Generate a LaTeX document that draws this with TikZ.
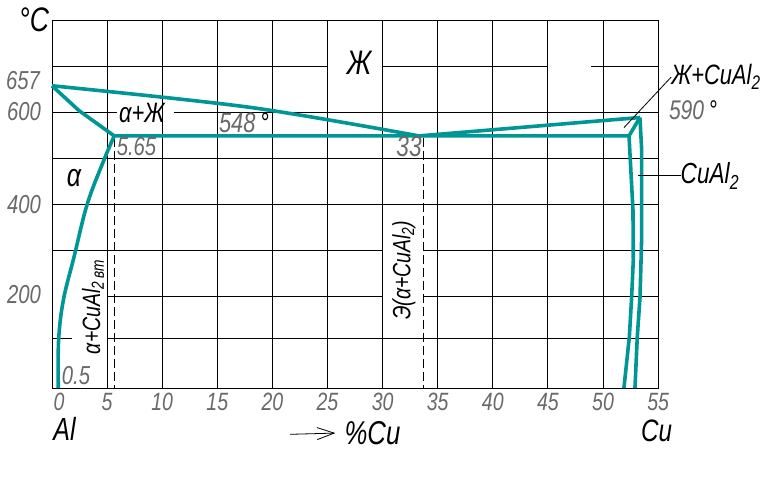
\documentclass[tikz,border=0pt]{standalone}
\usepackage{fontspec}
\setmainfont{Liberation Sans}[FakeStretch=0.78]
\usepackage{tikz}
\usetikzlibrary{arrows.meta}

\definecolor{fazacol}{RGB}{0,150,150}
\definecolor{numcol}{RGB}{105,105,105}

\tikzset{
  setka/.style={line width=0.9pt},
  faza/.style={line width=3.6pt, fazacol},
  shtrih/.style={line width=0.8pt, dash pattern=on 9pt off 4pt},
  vynoska/.style={line width=0.8pt},
  lbl/.style={font=\fontsize{#1}{#1}\selectfont\itshape, inner sep=0pt},
  lbl/.default=28,
  num/.style={text=numcol, font=\fontsize{#1}{#1}\selectfont\itshape, inner sep=0pt},
  num/.default=26
}

\begin{document}
\begin{tikzpicture}[x=11.02pt, y=0.46pt]
    % Параметры
    \def\Te{548}    % температура эвтектики
    \def\Ce{33.3}   % состав эвтектики
    \def\Ca{5.65}   % предельная растворимость в alpha
    \def\Tm{588}    % плавление CuAl2

    \useasboundingbox (-52pt,-92pt) rectangle (717pt,388pt);

    % Сетка
    \draw[setka] (0,0) rectangle (55,800);
    \foreach \c in {5,10,...,50}
        \draw[setka] (\c,0) -- (\c,800);
    \draw[setka] (0,700) -- (25,700) (30,700) -- (45,700) (48.9,700) -- (55,700);
    \draw[setka] (0,600) -- (5.87,600) (11.07,600) -- (55,600);
    \draw[setka] (0,500) -- (55,500);
    \draw[setka] (0,400) -- (55,400);
    \draw[setka] (0,300) -- (30,300) (33.67,300) -- (55,300);
    \draw[setka] (5,198) -- (30,198) (33.67,198) -- (55,198);
    \draw[setka] (0,107) -- (1.84,107) (5,107) -- (55,107);

    % Штриховые линии
    \draw[shtrih] (\Ca,544) -- (\Ca,0);
    \draw[shtrih] (33.67,544) -- (33.67,0);

    % Ликвидус
    \draw[faza] plot[smooth, tension=0.5] coordinates {(0,657) (18,610) (\Ce,\Te)};
    \draw[faza] (\Ce,\Te) -- (53.35,\Tm);

    % Солидус и эвтектическая горизонталь
    \draw[faza] (0,657) -- (2.45,603) -- (\Ca,\Te) -- (52.36,\Te) -- (53.35,\Tm);

    % Сольвус alpha
    \draw[faza] plot[smooth, tension=0.6] coordinates
        {(\Ca,\Te) (4.72,496) (3.2,400) (2.0,285) (1.03,191) (0.6,104) (0.57,0)};

    % Область CuAl2
    \draw[faza] (52.36,\Te) -- (52.72,387) -- (52.75,278) -- (52.6,198) -- (52.39,111) -- (51.9,0);
    \draw[faza] (53.35,\Tm) -- (53.51,517) -- (53.51,328) -- (53.36,198) -- (53.11,111) -- (52.9,0);

    % Подписи оси температур
    \node[lbl=34] (degC) at (-1.63,801) {°C};
    \node[num] (t657) at (-2.63,669) {657};
    \node[num] (t600) at (-2.54,602) {600};
    \node[num] (t400) at (-2.54,399) {400};
    \node[num] (t200) at (-2.54,204) {200};

    % Подписи оси составов
    \node[num=25] (c0) at (0.65,-31) {0};
    \foreach \c in {5,10,...,55}
        \node[num=25] (c\c) at (\c,-31) {\c};
    \node[lbl=32] (al) at (1.13,-89) {Al};
    \node[lbl=33] (pctcu) at (29.08,-98) {\%Cu};
    \node[lbl=31] (cu) at (54.87,-93) {Cu};
    \coordinate (strelka) at (21.6,-100.7);
    \draw[vynoska, -{Straight Barb[length=17pt, width=12pt]}] (strelka) -- ([xshift=-9pt]pctcu.west);

    % Точки диаграммы
    \node[num=26] (c565) at (7.67,524) {5.65};
    \node[num=28] (t548) at (17.42,576) {548\,\textcolor{black}{°}};
    \node[num=29] (c33) at (32.4,526) {33};
    \node[num=26] (c05) at (2.18,28) {0.5};
    \node[num=27] (t590) at (58.17,604) {590\,\textcolor{black}{°}};

    % Фазовые области
    \node[lbl=34] (zh) at (27.86,706) {Ж};
    \node[lbl] (alfzh) at (8.14,598) {α+Ж};
    \node[lbl=32] (alf) at (2.0,456) {α};
    \node[lbl=25, rotate=90] (alfvt) at (3.72,176) {α+CuAl\textsubscript{2\,вт}};
    \node[lbl=25, rotate=90] (evt) at (31.94,256) {Э(α+CuAl\textsubscript{2})};
    \node[lbl] (zhcu) at (60.25,676) {Ж+CuAl\textsubscript{2}};
    \node[lbl=29] (cual) at (59.7,461.5) {CuAl\textsubscript{2}};

    % Выноски
    \coordinate (zhcupt) at (51.9,566);
    \coordinate (cualpt) at (53.2,461.5);
    \draw[vynoska] (zhcupt) -- (zhcu.west);
    \draw[vynoska] (cualpt) -- (cual.west);
\end{tikzpicture}
\end{document}
